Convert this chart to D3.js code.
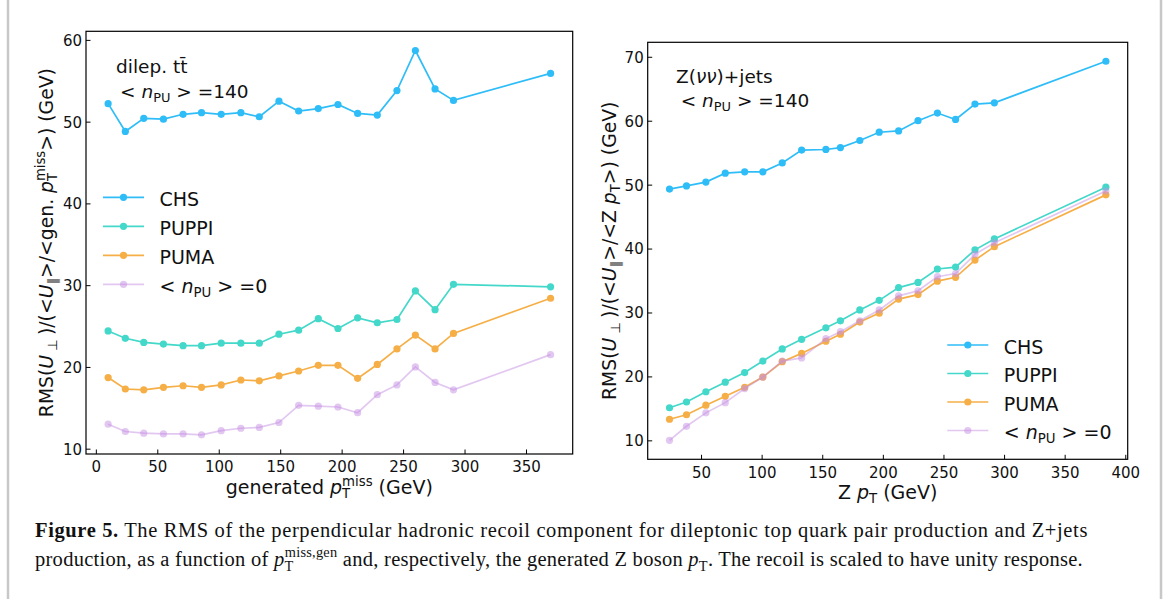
<!DOCTYPE html>
<html>
<head>
<meta charset="utf-8">
<script src="https://cdn.jsdelivr.net/npm/d3@7"></script>
<style>
  body { margin: 0; background: #fff; }
  svg text { font-family: "DejaVu Sans", sans-serif; fill: #111; }
  svg text.caption { font-family: "Liberation Serif", "DejaVu Serif", serif; }
</style>
</head>
<body>
<div id="fig"></div>
<script>
// ---- data ----
const ttX = [10, 24, 39, 55, 71, 86, 102, 118, 133, 149, 165, 181, 197, 213, 229, 245, 260, 276, 291, 370];
const ttCHS = [52.2, 48.8, 50.4, 50.3, 50.9, 51.1, 50.9, 51.1, 50.6, 52.5, 51.3, 51.6, 52.1, 51.0, 50.8, 53.8, 58.7, 54.0, 52.6, 55.9];
const ttPUPPI = [24.4, 23.5, 23.0, 22.8, 22.6, 22.6, 22.9, 22.9, 22.9, 24.0, 24.5, 25.9, 24.7, 26.0, 25.4, 25.8, 29.3, 27.0, 30.1, 29.8];
const ttPUMA = [18.7, 17.3, 17.2, 17.5, 17.7, 17.5, 17.8, 18.4, 18.3, 18.9, 19.5, 20.2, 20.2, 18.6, 20.3, 22.2, 23.9, 22.2, 24.1, 28.4];
const ttNoPU = [13.0, 12.1, 11.9, 11.8, 11.8, 11.7, 12.2, 12.5, 12.6, 13.2, 15.3, 15.2, 15.1, 14.4, 16.6, 17.8, 20.0, 18.1, 17.2, 21.5];

const zX = [24, 38, 54, 70, 86, 101, 117, 133, 153, 165, 181, 197, 213, 229, 245, 260, 276, 292, 384];
const zCHS = [49.3, 49.8, 50.4, 51.8, 52.0, 52.0, 53.4, 55.4, 55.5, 55.8, 56.9, 58.2, 58.4, 60.0, 61.2, 60.2, 62.6, 62.8, 69.3];
const zPUPPI = [15.1, 16.0, 17.6, 19.1, 20.6, 22.4, 24.3, 25.8, 27.6, 28.7, 30.4, 31.9, 33.9, 34.7, 36.8, 37.1, 39.8, 41.5, 49.6];
const zPUMA = [13.3, 14.0, 15.5, 16.9, 18.3, 19.9, 22.3, 23.6, 25.5, 26.6, 28.5, 29.9, 32.1, 32.8, 34.9, 35.5, 38.2, 40.3, 48.4];
const zNoPU = [10.0, 12.2, 14.3, 15.9, 18.1, 19.9, 22.4, 22.9, 25.9, 27.0, 28.7, 30.4, 32.6, 33.4, 35.6, 36.1, 39.1, 40.9, 49.0];

const seriesNames = ["CHS", "PUPPI", "PUMA", "noPU"];
const ttXTicks = [0, 50, 100, 150, 200, 250, 300, 350];
const ttYTicks = [10, 20, 30, 40, 50, 60];
const zXTicks = [50, 100, 150, 200, 250, 300, 350, 400];
const zYTicks = [10, 20, 30, 40, 50, 60, 70];

const colors = { CHS: "#2fbdf8", PUPPI: "#43d8c9", PUMA: "#f6af47", noPU: "#c58fe3" };
const opac = { CHS: 1, PUPPI: 1, PUMA: 1, noPU: 0.5 };

const W = 1170, H = 599;
const svg = d3.select("#fig").append("svg")
    .attr("width", W).attr("height", H);
svg.append("rect").attr("width", W).attr("height", H).attr("fill", "#fff");

// page frame (grey side rules)
svg.append("line").attr("x1", 8).attr("x2", 8).attr("y1", 0).attr("y2", H)
    .attr("stroke", "#c8c8c8").attr("stroke-width", 2.5);
svg.append("line").attr("x1", 1161).attr("x2", 1161).attr("y1", 0).attr("y2", H)
    .attr("stroke", "#c8c8c8").attr("stroke-width", 2.5);

// small mathtext-ish helper: parts = [{t, i, b, sub, sup, stack}]
function mathText(textSel, parts, size) {
    let shift = 0, lastW = 0, carry = 0;
    parts.forEach(p => {
        const ts = textSel.append("tspan").text(p.t);
        let fs = size, target = 0;
        if (p.sub) { fs = size * 0.7; target = size * 0.22; }
        if (p.sup) { fs = size * 0.7; target = -size * 0.42; }
        ts.attr("font-size", fs);
        if (p.i) ts.style("font-style", "italic");
        if (p.b) ts.style("font-weight", "bold");
        ts.attr("dy", target - shift);
        shift = target;
        let dx = carry;
        carry = 0;
        if (p.stack) dx -= lastW;
        if (dx) ts.attr("dx", dx);
        const w = ts.node().getComputedTextLength();
        if (p.stack && lastW > w) carry = lastW - w;
        lastW = w;
    });
    return textSel;
}

function panel(cfg) {
    const g = svg.append("g");
    const all = cfg.series.flat();
    const xe = d3.extent(cfg.x), ye = d3.extent(all);
    const xm = (xe[1] - xe[0]) * 0.05, ym = (ye[1] - ye[0]) * 0.05;

    const x = d3.scaleLinear().domain([xe[0] - xm, xe[1] + xm]).range([cfg.left, cfg.right]);
    const y = d3.scaleLinear().domain([ye[0] - ym, ye[1] + ym]).range([cfg.bottom, cfg.top]);

    // axes, ticks pointing inwards
    const xAxis = g.append("g")
        .attr("transform", `translate(0,${cfg.bottom})`)
        .call(d3.axisBottom(x).tickValues(cfg.xTicks).tickSizeInner(-4.5).tickSizeOuter(0).tickPadding(7));
    const yAxis = g.append("g")
        .attr("transform", `translate(${cfg.left},0)`)
        .call(d3.axisLeft(y).tickValues(cfg.yTicks).tickSizeInner(-4.5).tickSizeOuter(0).tickPadding(4));
    [xAxis, yAxis].forEach(a => {
        a.select(".domain").remove();
        a.selectAll(".tick line").attr("stroke", "#000").attr("stroke-width", 1);
        a.selectAll(".tick text").attr("font-size", 15).attr("font-family", "DejaVu Sans").attr("fill", "#111");
    });
    yAxis.selectAll(".tick text").attr("dy", "0.36em");
    xAxis.selectAll(".tick text").attr("dy", "0.76em");

    // lines + markers
    const line = d3.line().x((d, i) => x(cfg.x[i])).y(d => y(d));
    cfg.series.forEach((vals, k) => {
        const name = seriesNames[k];
        const sg = g.append("g");
        sg.append("path")
            .datum(vals)
            .attr("fill", "none")
            .attr("stroke", colors[name])
            .attr("stroke-opacity", opac[name])
            .attr("stroke-width", 1.7)
            .attr("d", line);
        sg.selectAll("circle")
            .data(vals)
            .enter()
            .append("circle")
            .attr("cx", (d, i) => x(cfg.x[i]))
            .attr("cy", d => y(d))
            .attr("r", 3.6)
            .attr("fill", colors[name])
            .attr("fill-opacity", opac[name]);
    });

    // frame
    g.append("rect")
        .attr("x", cfg.left).attr("y", cfg.top)
        .attr("width", cfg.right - cfg.left).attr("height", cfg.bottom - cfg.top)
        .attr("fill", "none").attr("stroke", "#000").attr("stroke-width", 1.2);

    // axis labels
    mathText(g.append("text")
        .attr("x", (cfg.left + cfg.right) / 2)
        .attr("y", cfg.bottom + 40)
        .attr("text-anchor", "middle")
        .attr("font-size", 19), cfg.xLabel, 19);

    mathText(g.append("text")
        .attr("transform", "rotate(-90)")
        .attr("x", -(cfg.top + cfg.bottom) / 2)
        .attr("y", cfg.yLabelX)
        .attr("text-anchor", "middle")
        .attr("font-size", 18.8), cfg.yLabel, 18.8);

    // annotations
    cfg.notes.forEach(n => {
        mathText(g.append("text").attr("x", n.x).attr("y", n.y).attr("font-size", 18.5), n.parts, 18.5);
    });

    // legend
    const legLabels = [
        [{ t: "CHS" }], [{ t: "PUPPI" }], [{ t: "PUMA" }],
        [{ t: " < " }, { t: "n", i: 1 }, { t: "PU", sub: 1 }, { t: " > =0" }]
    ];
    seriesNames.forEach((name, k) => {
        const ly = cfg.legY + k * cfg.legStep;
        g.append("line")
            .attr("x1", cfg.legX).attr("x2", cfg.legX + 41)
            .attr("y1", ly).attr("y2", ly)
            .attr("stroke", colors[name]).attr("stroke-opacity", opac[name])
            .attr("stroke-width", 1.7);
        g.append("circle")
            .attr("cx", cfg.legX + 20.5).attr("cy", ly).attr("r", 3.6)
            .attr("fill", colors[name]).attr("fill-opacity", opac[name]);
        mathText(g.append("text")
            .attr("x", cfg.legX + 56.5).attr("y", ly + 8.5)
            .attr("font-size", 19), legLabels[k], 19);
    });
}

const npu140 = [{ t: "< " }, { t: "n", i: 1 }, { t: "PU", sub: 1 }, { t: " > =140" }];

panel({
    x: ttX, series: [ttCHS, ttPUPPI, ttPUMA, ttNoPU],
    left: 86, right: 572.7, top: 31.3, bottom: 454,
    xTicks: ttXTicks, yTicks: ttYTicks,
    xLabel: [{ t: "generated " }, { t: "p", i: 1 }, { t: "T", sub: 1 }, { t: "miss", sup: 1, stack: 1 }, { t: " (GeV)" }],
    yLabel: [{ t: "RMS(" }, { t: "U", i: 1 }, { t: " \u22A5 ", sub: 1 }, { t: ")/(<" }, { t: "U", i: 1 }, { t: "\u2225", sub: 1 },
             { t: ">/<gen. " }, { t: "p", i: 1 }, { t: "T", sub: 1 }, { t: "miss", sup: 1, stack: 1 }, { t: ">) (GeV)" }],
    yLabelX: 53,
    notes: [
        { x: 116, y: 73, parts: [{ t: "dilep. tt\u0304" }] },
        { x: 120, y: 98, parts: npu140 }
    ],
    legX: 103, legY: 197.3, legStep: 29
});

panel({
    x: zX, series: [zCHS, zPUPPI, zPUMA, zNoPU],
    left: 647.7, right: 1127.7, top: 42.3, bottom: 459.3,
    xTicks: zXTicks, yTicks: zYTicks,
    xLabel: [{ t: "Z " }, { t: "p", i: 1 }, { t: "T", sub: 1 }, { t: " (GeV)" }],
    yLabel: [{ t: "RMS(" }, { t: "U", i: 1 }, { t: " \u22A5 ", sub: 1 }, { t: ")/(<" }, { t: "U", i: 1 }, { t: "\u2225", sub: 1 },
             { t: ">/<Z " }, { t: "p", i: 1 }, { t: "T", sub: 1 }, { t: ">) (GeV)" }],
    yLabelX: 616,
    notes: [
        { x: 676, y: 83, parts: [{ t: "Z(" }, { t: "\u03BD\u03BD", i: 1 }, { t: ")+jets" }] },
        { x: 680.7, y: 107.3, parts: npu140 }
    ],
    legX: 947.3, legY: 345, legStep: 28.5
});

// caption, stretched with letter spacing to the reference line widths
function caption(y, parts, rightEdge) {
    const t = svg.append("text").attr("class", "caption")
        .attr("x", 35).attr("y", y).attr("font-size", 20.5);
    mathText(t, parts, 20.5);
    const w = t.node().getBBox().width;
    const n = t.text().length;
    t.attr("letter-spacing", ((rightEdge - 35) - w) / n);
    return t;
}
caption(537, [{ t: "Figure 5.", b: 1 },
    { t: " The RMS of the perpendicular hadronic recoil component for dileptonic top quark pair production and Z+jets" }], 1088);
caption(566, [{ t: "production, as a function of " }, { t: "p", i: 1 }, { t: "T", sub: 1 }, { t: "miss,gen", sup: 1, stack: 1 },
    { t: " and, respectively, the generated Z boson " }, { t: "p", i: 1 }, { t: "T", sub: 1 },
    { t: ". The recoil is scaled to have unity response." }], 1083);
</script>
</body>
</html>
